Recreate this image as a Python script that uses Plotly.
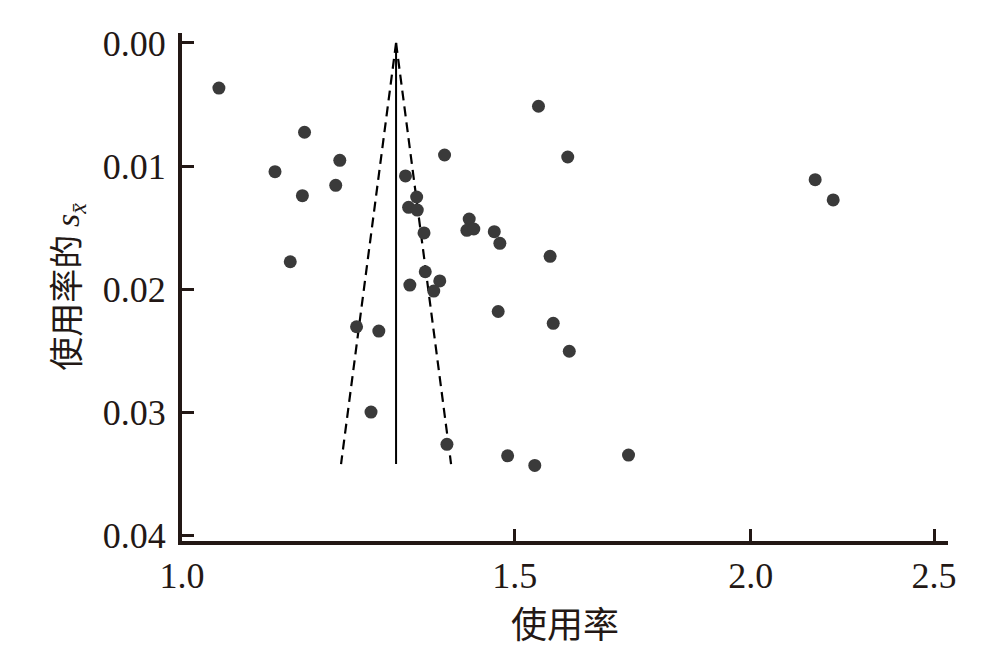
import numpy as np
import plotly.graph_objects as go

# Study-level usage rates and their standard errors
usage_rate = [1.046, 1.161, 1.212, 1.120, 1.206, 1.158, 1.141, 1.377, 1.313, 1.331,
              1.318, 1.332, 1.419, 1.343, 1.415, 1.427, 1.463, 1.473, 1.345, 1.369,
              1.320, 1.359, 1.544, 1.600, 1.566, 1.470, 1.572, 1.603, 1.237, 1.271,
              1.259, 1.381, 1.487, 1.537, 1.723, 2.163, 2.211]
usage_se = [0.00366, 0.00725, 0.00953, 0.01045, 0.01156, 0.01240, 0.01777, 0.00910, 0.01080, 0.01251,
            0.01335, 0.01357, 0.01430, 0.01543, 0.01522, 0.01511, 0.01533, 0.01627, 0.01858, 0.01933,
            0.01966, 0.02015, 0.00514, 0.00926, 0.01733, 0.02181, 0.02277, 0.02504, 0.02305, 0.02340,
            0.02998, 0.03260, 0.03353, 0.03431, 0.03347, 0.01110, 0.01275]

pooled_rate = 1.298
funnel_se = [0.0, 0.0342]

x_ticks = [1.0, 1.5, 2.0, 2.5]
x_tick_text = ["1.0", "1.5", "2.0", "2.5"]
y_ticks = [0.0, 0.01, 0.02, 0.03, 0.04]
y_tick_text = ["0.00", "0.01", "0.02", "0.03", "0.04"]

axis_color = "#231815"
serif = "Liberation Serif, Times New Roman, serif"
cjk = "Noto Sans CJK SC"

se_arr = np.array(funnel_se)
left_bound = np.exp(np.log(pooled_rate) - 1.96 * se_arr)
right_bound = np.exp(np.log(pooled_rate) + 1.96 * se_arr)

fig = go.Figure()
fig.add_trace(go.Scatter(x=list(left_bound), y=funnel_se, mode="lines",
                         line=dict(color="black", width=2.2, dash="10px,6px"),
                         showlegend=False, hoverinfo="skip"))
fig.add_trace(go.Scatter(x=list(right_bound), y=funnel_se, mode="lines",
                         line=dict(color="black", width=2.2, dash="10px,6px"),
                         showlegend=False, hoverinfo="skip"))
fig.add_trace(go.Scatter(x=[pooled_rate, pooled_rate], y=funnel_se, mode="lines",
                         line=dict(color="black", width=2),
                         showlegend=False, hoverinfo="skip"))
fig.add_trace(go.Scatter(x=usage_rate, y=usage_se, mode="markers",
                         marker=dict(color="#3a3a3a", size=13, line=dict(width=0)),
                         showlegend=False))

fig.update_layout(
    width=1007, height=652,
    margin=dict(l=174, r=67, t=25, b=119, autoexpand=False),
    paper_bgcolor="white", plot_bgcolor="white",
    font=dict(family=serif, size=36, color=axis_color),
)
fig.update_xaxes(
    type="log", range=[0.0, np.log10(2.543)],
    tickvals=x_ticks, ticktext=x_tick_text,
    ticks="inside", ticklen=12, tickwidth=3, tickcolor=axis_color,
    showline=True, linecolor=axis_color, linewidth=4,
    showgrid=False, zeroline=False,
    tickfont=dict(family=serif, size=36, color=axis_color),
    title=dict(text="使用率", font=dict(family=cjk, size=36, color=axis_color), standoff=16),
)
fig.update_yaxes(
    range=[0.04045, -0.00081],
    tickvals=y_ticks, ticktext=y_tick_text,
    ticks="inside", ticklen=12, tickwidth=3, tickcolor=axis_color,
    ticklabelstandoff=5,
    showline=True, linecolor=axis_color, linewidth=4,
    showgrid=False, zeroline=False,
    tickfont=dict(family=serif, size=36, color=axis_color),
    title=dict(text="使用率的 <span style=\"font-family:'Liberation Serif'\"><i>s</i><sub><i>x̄</i></sub></span>",
               font=dict(family=cjk, size=34, color=axis_color), standoff=14),
)

fig.write_html("out.html")
